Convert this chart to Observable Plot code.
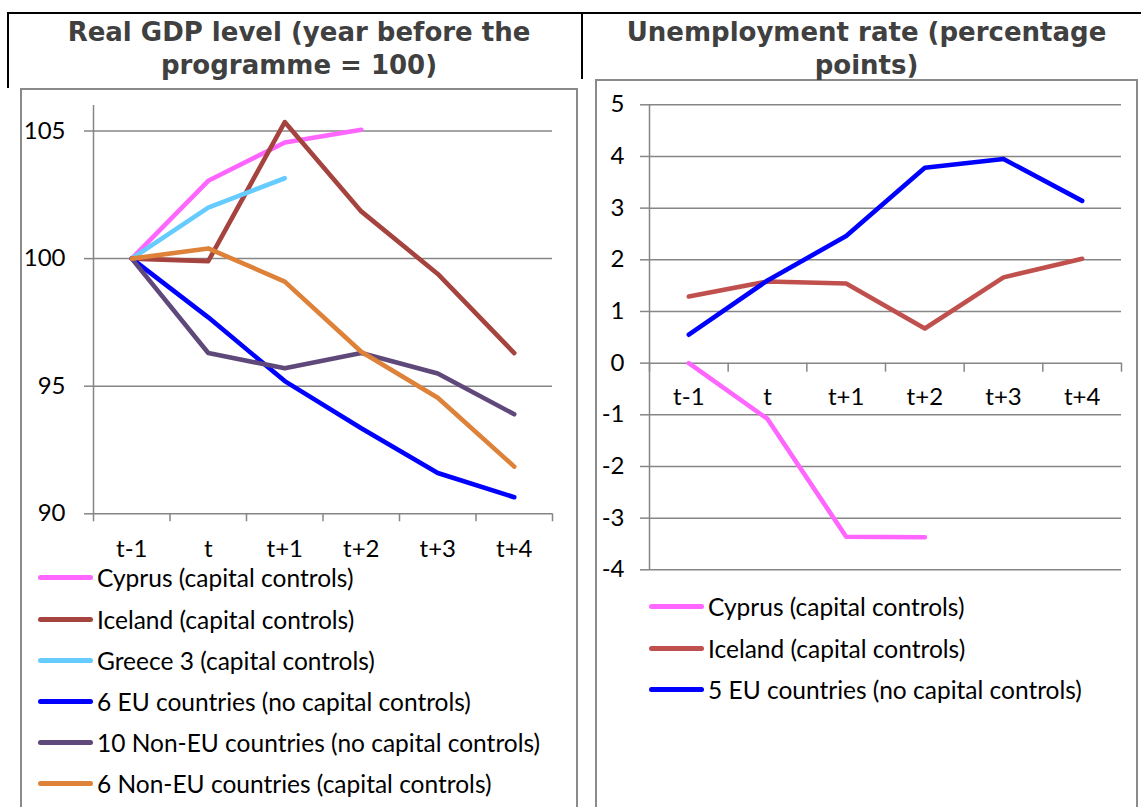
<!DOCTYPE html>
<html><head><meta charset="utf-8">
<script src="https://cdn.jsdelivr.net/npm/d3@7"></script>
<script src="https://cdn.jsdelivr.net/npm/@observablehq/plot@0.6"></script>
<style>
html,body{margin:0;padding:0;background:#fff;}
body{width:1141px;height:807px;position:relative;overflow:hidden;font-family:Lato,sans-serif;}
.abs{position:absolute;}
.black{background:#000;}
.title{font-family:"DejaVu Sans",Verdana,sans-serif;font-weight:bold;font-size:26px;line-height:33px;color:#404040;text-align:center;white-space:nowrap;}
.box{border:2px solid #8a8a8a;box-sizing:border-box;}
.legend{font-family:Lato,sans-serif;font-size:24.5px;color:#000;}
.row{display:flex;align-items:center;height:41.2px;white-space:nowrap;}
.sw{width:55px;height:5px;border-radius:3px;margin-right:4px;flex:none;}
svg{overflow:visible;}
</style></head><body>
<div class="abs black" style="left:7px;top:12px;width:1134px;height:2px"></div>
<div class="abs black" style="left:7px;top:12px;width:2px;height:76px"></div>
<div class="abs black" style="left:581px;top:12px;width:2px;height:67px"></div>
<div class="abs box" style="left:20px;top:88px;width:558px;height:740px"></div>
<div class="abs box" style="left:595px;top:79px;width:543px;height:740px"></div>
<div id="t1" class="abs title" style="left:20px;top:16px;width:558px"></div>
<div id="t2" class="abs title" style="left:595px;top:16px;width:543px"></div>
<div id="p1" class="abs" style="left:21px;top:88px"></div>
<div id="p2" class="abs" style="left:596px;top:80px"></div>
<div id="l1" class="abs legend" style="left:38px;top:557.4px"></div>
<div id="l2" class="abs legend" style="left:649px;top:586.4px"></div>
<script>
// ---- text ----
const title1 = ["Real GDP level (year before the", "programme = 100)"];
const title2 = ["Unemployment rate (percentage", "points)"];

// ---- categories / ticks ----
const periods = ["t-1", "t", "t+1", "t+2", "t+3", "t+4"];
const gdpTicks = [90, 95, 100, 105];
const unempTicks = [-4, -3, -2, -1, 0, 1, 2, 3, 4, 5];

// ---- left chart: Real GDP level ----
const gdpNames = [
  "Cyprus (capital controls)",
  "Iceland (capital controls)",
  "Greece 3 (capital controls)",
  "6 EU countries (no capital controls)",
  "10 Non-EU countries (no capital controls)",
  "6 Non-EU countries (capital controls)"
];
const gdpColors = ["#FF66FF", "#A5433F", "#66CCFF", "#0000FF", "#5F497A", "#DD8238"];
const gdpCyprus   = [100, 103.05, 104.55, 105.05];
const gdpIceland  = [100, 99.9, 105.35, 101.85, 99.4, 96.3];
const gdpGreece   = [100, 102.0, 103.15];
const gdpEU6      = [100, 97.7, 95.2, 93.35, 91.6, 90.65];
const gdpNonEU10  = [100, 96.3, 95.7, 96.3, 95.5, 93.9];
const gdpNonEU6   = [100, 100.4, 99.1, 96.35, 94.55, 91.85];

// ---- right chart: Unemployment rate ----
const unempNames = [
  "Cyprus (capital controls)",
  "Iceland (capital controls)",
  "5 EU countries (no capital controls)"
];
const unempColors = ["#FF66FF", "#C0504D", "#0000FF"];
const unempCyprus  = [0, -1.08, -3.36, -3.37];
const unempIceland = [1.29, 1.58, 1.54, 0.67, 1.66, 2.02];
const unempEU5     = [0.55, 1.6, 2.46, 3.78, 3.95, 3.14];

// ---- build tables ----
function rows(names, series) {
  const out = [];
  series.forEach((vals, k) => vals.forEach((v, i) => out.push({i, v, s: names[k]})));
  return out;
}
const gdpRows = rows(gdpNames, [gdpCyprus, gdpIceland, gdpGreece, gdpEU6, gdpNonEU10, gdpNonEU6]);
const unempRows = rows(unempNames, [unempCyprus, unempIceland, unempEU5]);
const idx = d3.range(periods.length);
const bounds = d3.range(periods.length + 1).map(k => k - 0.5);

const gray = "#868686";
const fs = 24;
const baseStyle = {fontFamily: "Lato, sans-serif", fontSize: fs + "px", color: "#000", background: "transparent", overflow: "visible"};

const left = Plot.plot({
  width: 543, height: 480,
  marginLeft: 72, marginRight: 12, marginTop: 17, marginBottom: 54.7,
  style: baseStyle,
  x: {domain: [-0.5, 5.5], axis: null},
  y: {domain: [90, 106], axis: null},
  color: {domain: gdpNames, range: gdpColors},
  marks: [
    Plot.gridY(gdpTicks, {stroke: gray, strokeOpacity: 1, strokeWidth: 1.5}),
    Plot.axisY(gdpTicks, {tickSize: 9, tickPadding: 19, stroke: gray, strokeWidth: 1.5, label: null, fontSize: fs}),
    Plot.ruleX([-0.5], {stroke: gray, strokeWidth: 1.5}),
    Plot.axisX(bounds, {tickSize: 8, tickFormat: () => "", stroke: gray, strokeWidth: 1.5, label: null}),
    Plot.axisX(idx, {tickSize: 0, tickPadding: 26, tickFormat: i => periods[i], label: null, fontSize: fs}),
    Plot.line(gdpRows, {x: "i", y: "v", z: "s", stroke: "s", strokeWidth: 4.6, strokeLinecap: "round", strokeLinejoin: "round"})
  ]
});
document.getElementById("p1").appendChild(left);

const right = Plot.plot({
  width: 540, height: 500,
  marginLeft: 53, marginRight: 15, marginTop: 24.3, marginBottom: 10.7,
  style: baseStyle,
  x: {domain: [-0.5, 5.5], axis: null},
  y: {domain: [-4, 5], axis: null},
  color: {domain: unempNames, range: unempColors},
  marks: [
    Plot.gridY(unempTicks, {stroke: gray, strokeOpacity: 1, strokeWidth: 1.5}),
    Plot.axisY(unempTicks, {tickSize: 9, tickPadding: 16, stroke: gray, strokeWidth: 1.5, label: null, fontSize: fs, tickFormat: d => String(d)}),
    Plot.ruleX([-0.5], {stroke: gray, strokeWidth: 1.5}),
    Plot.ruleX(bounds, {x: d => d, y1: 0, y2: 0, insetBottom: -9, stroke: gray, strokeWidth: 1.5}),
    Plot.text(idx, {x: d => d, y: 0, dy: 34, text: i => periods[i], fontSize: fs, fill: "#000"}),
    Plot.line(unempRows, {x: "i", y: "v", z: "s", stroke: "s", strokeWidth: 4.6, strokeLinecap: "round", strokeLinejoin: "round"})
  ]
});
document.getElementById("p2").appendChild(right);

// ---- titles ----
document.getElementById("t1").innerHTML = title1.join("<br>");
document.getElementById("t2").innerHTML = title2.join("<br>");

// ---- legends ----
function legend(el, names, colors) {
  names.forEach((n, k) => {
    const r = document.createElement("div"); r.className = "row";
    const s = document.createElement("div"); s.className = "sw"; s.style.background = colors[k];
    const t = document.createElement("span"); t.textContent = n;
    r.appendChild(s); r.appendChild(t); el.appendChild(r);
  });
}
legend(document.getElementById("l1"), gdpNames, gdpColors);
legend(document.getElementById("l2"), unempNames, unempColors);
</script>
</body></html>
